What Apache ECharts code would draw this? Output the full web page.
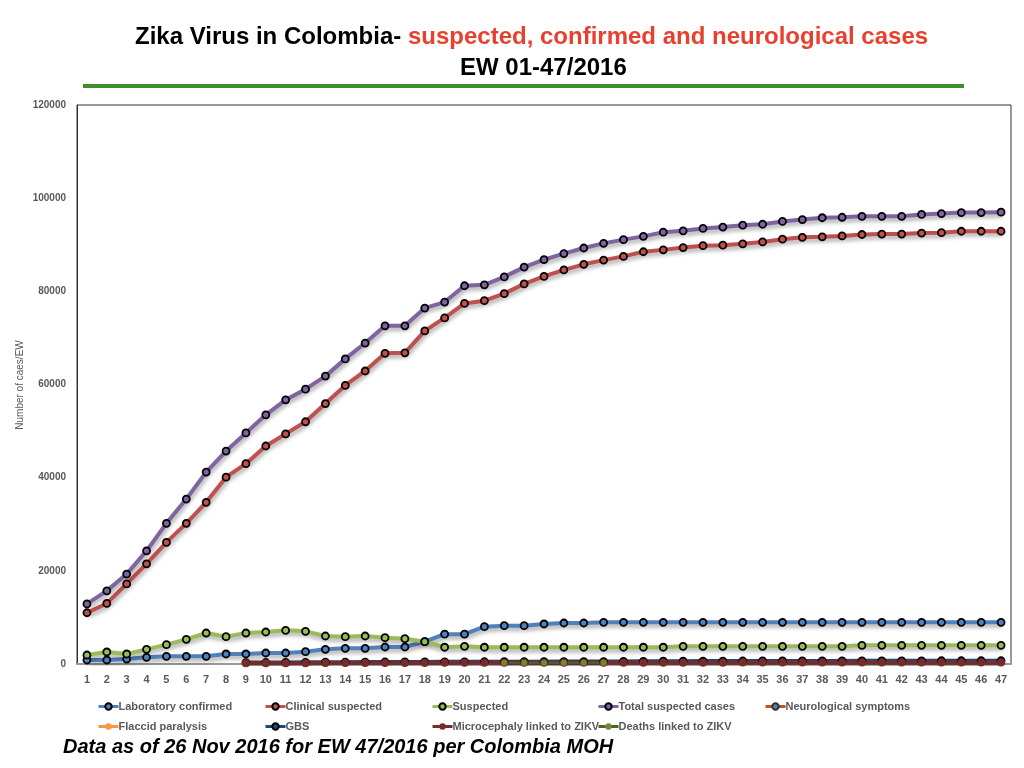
<!DOCTYPE html>
<html>
<head>
<meta charset="utf-8">
<script src="https://cdn.jsdelivr.net/npm/echarts@6/dist/echarts.min.js"></script>
<style>
  html, body { margin: 0; padding: 0; background: #fff; }
  #show { width: 1024px; height: 768px; }
</style>
</head>
<body>
<div id="show"></div>
<script>
// epidemiological weeks
var weeks = ['1','2','3','4','5','6','7','8','9','10','11','12','13','14','15','16',
  '17','18','19','20','21','22','23','24','25','26','27','28','29','30','31','32',
  '33','34','35','36','37','38','39','40','41','42','43','44','45','46','47'];

var labConfirmed = [860,860,1070,1430,1650,1650,1650,2150,2150,2360,
  2360,2650,3150,3370,3370,3650,3650,4790,6400,6400,
  8010,8220,8220,8590,8800,8800,8950,8950,8950,8950,
  8950,8950,8950,8950,8950,8950,8950,8950,8950,8950,
  8950,8950,8950,8950,8950,8950,8950];

var clinicalSuspected = [11000,13000,17200,21500,26100,30200,34700,40100,43000,46800,
  49400,52000,55900,59800,62900,66700,66800,71500,74300,77400,
  78000,79500,81600,83200,84600,85800,86700,87500,88500,88900,
  89400,89800,89900,90200,90600,91200,91600,91700,91900,92200,
  92300,92300,92500,92600,92900,92900,92900];

var suspected = [1930,2580,2150,3150,4150,5300,6650,5870,6650,6870,
  7230,7010,6010,5870,6010,5650,5440,4790,3600,3800,
  3600,3600,3600,3600,3600,3600,3600,3600,3600,3600,
  3800,3800,3800,3800,3800,3800,3800,3800,3800,4000,
  4000,4000,4000,4000,4000,4000,4000];

var totalSuspected = [12900,15700,19300,24300,30200,35400,41200,45700,49600,53500,
  56700,59000,61800,65500,68900,72600,72600,76400,77700,81200,
  81400,83100,85200,86800,88100,89300,90300,91100,91800,92700,
  93000,93500,93800,94200,94400,95000,95400,95800,95900,96100,
  96100,96100,96500,96700,96900,96900,97000];

var neuroSymptoms = [null,null,null,null,null,null,null,null,250,280,
  300,320,340,360,380,390,400,410,420,430,
  440,450,450,460,460,470,470,480,480,480,
  490,490,490,500,500,500,500,510,510,510,
  510,520,520,520,520,520,520];

var flaccidParalysis = [null,null,null,null,null,null,null,null,80,90,
  100,110,120,130,140,150,150,160,160,170,
  170,180,180,180,190,190,190,200,200,200,
  200,200,210,210,210,210,210,210,220,220,
  220,220,220,220,220,220,220];

var gbs = [null,null,null,null,null,null,null,null,300,320,
  340,360,380,400,420,430,440,450,460,470,
  480,490,500,500,510,520,530,560,580,600,
  610,620,630,640,650,660,660,670,670,680,
  680,690,690,700,700,700,700];

var microcephaly = [null,null,null,null,null,null,null,null,150,160,
  170,180,190,200,210,220,230,240,250,250,
  260,260,270,270,270,280,280,280,280,290,
  290,290,290,300,300,300,300,300,310,310,
  310,310,310,320,320,320,320];

var deaths = [null,null,null,null,null,null,null,null,null,null,
  null,null,null,null,null,null,null,null,null,null,
  null,270,280,280,280,290,290,null,null,null,
  null,null,null,null,null,null,null,null,null,null,
  null,null,null,null,null,null,null];

var font = 'Liberation Sans';
var grey = '#595959';

// tiny helper to merge style objects
var $ = { extend: function (a, b) { for (var k in b) a[k] = b[k]; return a; } };

var shadow = {
  shadowColor: 'rgba(0,0,0,0.35)',
  shadowBlur: 4,
  shadowOffsetX: 1,
  shadowOffsetY: 3
};

function makeLine(name, data, color, opts) {
  opts = opts || {};
  return {
    name: name,
    type: 'line',
    data: data,
    symbol: 'circle',
    symbolSize: opts.size || 7,
    showAllSymbol: true,
    connectNulls: false,
    lineStyle: $.extend({ color: color, width: opts.width || 4 }, shadow),
    itemStyle: {
      color: opts.markerFill || color,
      borderColor: opts.markerBorder || '#000',
      borderWidth: opts.borderWidth === undefined ? 1.8 : opts.borderWidth
    },
    emphasis: { disabled: true },
    animation: false
  };
}

function legendAt(name, left, top) {
  return {
    data: [name],
    left: left,
    top: top,
    itemWidth: 20,
    itemHeight: 8,
    itemGap: 0,
    lineStyle: { width: 3, shadowBlur: 0, shadowOffsetX: 0, shadowOffsetY: 0 },
    textStyle: { fontFamily: font, fontSize: 11, fontWeight: 'bold', color: grey, padding: [0, 0, 0, -5] }
  };
}

var myChart = echarts.init(document.getElementById('show'));

var option = {
  backgroundColor: '#fff',
  title: [
    {
      text: '{a|Zika Virus in Colombia- }{b|suspected, confirmed and neurological cases}',
      left: 130,
      top: 20,
      textStyle: {
        rich: {
          a: { fontFamily: font, fontSize: 24, fontWeight: 'bold', color: '#000' },
          b: { fontFamily: font, fontSize: 24, fontWeight: 'bold', color: '#e8402e' }
        }
      }
    },
    {
      text: 'EW 01-47/2016',
      left: 455,
      top: 51,
      textStyle: { fontFamily: font, fontSize: 24, fontWeight: 'bold', color: '#000' }
    },
    {
      text: 'Data as of 26 Nov 2016 for EW 47/2016 per Colombia MOH',
      left: 58,
      top: 732,
      textStyle: { fontFamily: font, fontSize: 20, fontWeight: 'bold', fontStyle: 'italic', color: '#000' }
    }
  ],
  graphic: [
    {
      type: 'rect',
      shape: { x: 83, y: 84, width: 881, height: 4 },
      style: { fill: '#3e8e2b' }
    },
    {
      // y axis title
      type: 'text',
      x: 20,
      y: 385,
      rotation: Math.PI / 2,
      style: {
        text: 'Number of caes/EW',
        fontFamily: font,
        fontSize: 10,
        fill: grey,
        align: 'center',
        verticalAlign: 'middle'
      }
    }
  ],
  legend: [
    legendAt('Laboratory confirmed', 92, 696),
    legendAt('Clinical suspected', 259, 696),
    legendAt('Suspected', 426, 696),
    legendAt('Total suspected cases', 592, 696),
    legendAt('Neurological symptoms', 759, 696),
    legendAt('Flaccid paralysis', 92, 716),
    legendAt('GBS', 259, 716),
    legendAt('Microcephaly linked to ZIKV', 426, 716),
    legendAt('Deaths linked to ZIKV', 592, 716)
  ],
  grid: {
    left: 77,
    right: 13,
    top: 105,
    bottom: 104,
    show: true,
    borderColor: '#333',
    borderWidth: 1,
    containLabel: false
  },
  xAxis: {
    type: 'category',
    data: weeks,
    boundaryGap: true,
    axisLine: { lineStyle: { color: '#999', width: 2 } },
    axisTick: { show: false },
    axisLabel: { fontFamily: font, fontSize: 11, fontWeight: 'bold', color: grey, margin: 10, interval: 0 }
  },
  yAxis: {
    type: 'value',
    min: 0,
    max: 120000,
    interval: 20000,
    axisLine: { show: true, lineStyle: { color: '#333', width: 1 } },
    axisTick: { show: false },
    splitLine: { show: false },
    axisLabel: {
      fontFamily: font, fontSize: 10, fontWeight: 'bold', color: grey, margin: 11,
      formatter: function (v) { return String(v); }
    }
  },
  series: [
    makeLine('Laboratory confirmed', labConfirmed, '#4f81bd'),
    makeLine('Clinical suspected', clinicalSuspected, '#c0504d'),
    makeLine('Suspected', suspected, '#9bbb59'),
    makeLine('Total suspected cases', totalSuspected, '#8064a2'),
    makeLine('Neurological symptoms', neuroSymptoms, '#b8561f', { size: 5, markerFill: '#4f81bd', markerBorder: '#333', borderWidth: 0.8, width: 2 }),
    makeLine('Flaccid paralysis', flaccidParalysis, '#f79646', { size: 5, markerFill: '#f79646', borderWidth: 0, width: 2 }),
    makeLine('GBS', gbs, '#1f497d', { size: 7 }),
    makeLine('Microcephaly linked to ZIKV', microcephaly, '#772c2a', { size: 8, markerFill: '#772c2a', borderWidth: 0 }),
    makeLine('Deaths linked to ZIKV', deaths, '#4f6228', { size: 6, markerFill: '#6b8a35', borderWidth: 0, width: 2 })
  ]
};

myChart.setOption(option);
</script>
</body>
</html>
